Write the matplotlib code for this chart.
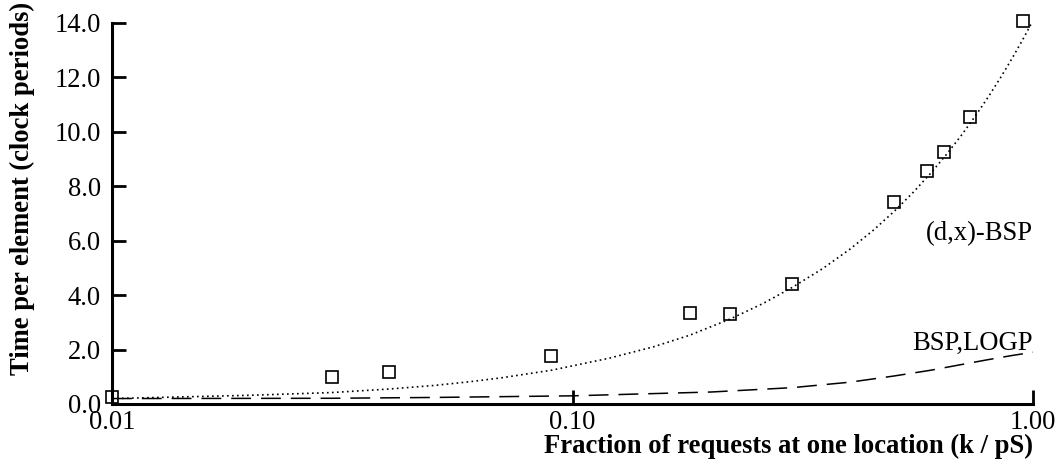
import matplotlib
matplotlib.use("Agg")
import matplotlib.pyplot as plt

# Measured points, (d,x)-BSP
meas_x = [0.01, 0.03, 0.04, 0.09, 0.18, 0.22, 0.30, 0.50, 0.59, 0.64, 0.73, 0.95]
meas_y = [0.25, 0.98, 1.17, 1.76, 3.34, 3.30, 4.40, 7.41, 8.55, 9.25, 10.52, 14.06]

# (d,x)-BSP prediction curve
dx_x = [0.01, 0.015, 0.02, 0.03, 0.04, 0.05, 0.06, 0.07, 0.09, 0.12, 0.15, 0.18,
        0.22, 0.26, 0.30, 0.35, 0.40, 0.45, 0.50, 0.55, 0.60, 0.65, 0.70, 0.75,
        0.80, 0.85, 0.90, 0.95, 1.00]
dx_y = [0.20, 0.27, 0.32, 0.42, 0.55, 0.68, 0.82, 0.96, 1.24, 1.68, 2.10, 2.53,
        3.12, 3.70, 4.28, 4.98, 5.68, 6.38, 7.08, 7.78, 8.48, 9.18, 9.88, 10.58,
        11.28, 11.98, 12.68, 13.38, 14.08]

# BSP,LOGP prediction curve
bsp_x = [0.01, 0.03, 0.05, 0.10, 0.20, 0.30, 0.40, 0.50, 0.60, 0.70, 0.80, 0.90, 1.00]
bsp_y = [0.20, 0.21, 0.24, 0.30, 0.44, 0.60, 0.80, 1.03, 1.24, 1.45, 1.63, 1.78, 1.90]

xticks = [0.01, 0.1, 1.0]
xtick_labels = ["0.01", "0.10", "1.00"]
yticks = [0, 2, 4, 6, 8, 10, 12, 14]
ytick_labels = ["0.0", "2.0", "4.0", "6.0", "8.0", "10.0", "12.0", "14.0"]

plt.rcParams["font.family"] = ["Liberation Serif", "DejaVu Serif"]
fs = 19.2

fig = plt.figure(figsize=(10.62, 4.65), dpi=100)
ax = fig.add_axes([0.1055, 0.1312, 0.8672, 0.82])

ax.plot(dx_x, dx_y, color="black", lw=1.2, linestyle=(0, (1.0, 2.0)))
ax.plot(bsp_x, bsp_y, color="black", lw=1.1, linestyle=(0, (13, 6.5)))
ax.plot(meas_x, meas_y, linestyle="none", marker="s", ms=8.5, mew=1.2,
        mfc="none", mec="black", clip_on=False)

ax.set_xscale("log")
ax.set_xlim(0.01, 1.0)
ax.set_ylim(0, 14)
ax.set_xticks(xticks, xtick_labels)
ax.set_yticks(yticks, ytick_labels)
ax.minorticks_off()

for side in ["top", "right"]:
    ax.spines[side].set_visible(False)
for side in ["left", "bottom"]:
    ax.spines[side].set_linewidth(2.2)

ax.tick_params(axis="both", direction="in", length=10, width=2, labelsize=fs)
ax.tick_params(axis="y", pad=8)
ax.tick_params(axis="x", pad=4)

ax.text(1.0, 6.0, "(d,x)-BSP", ha="right", va="baseline", fontsize=fs)
ax.text(1.0, 2.0, "BSP,LOGP", ha="right", va="baseline", fontsize=fs)

ax.set_ylabel("Time per element (clock periods)", fontsize=fs, fontweight="bold")
ax.yaxis.set_label_coords(-0.0836, 0.565)
ax.set_xlabel("Fraction of requests at one location (k / pS)", fontsize=fs,
              fontweight="bold", ha="right", va="center")
ax.xaxis.set_label_coords(1.0, -0.11)

fig.savefig("out.png", dpi=100)
